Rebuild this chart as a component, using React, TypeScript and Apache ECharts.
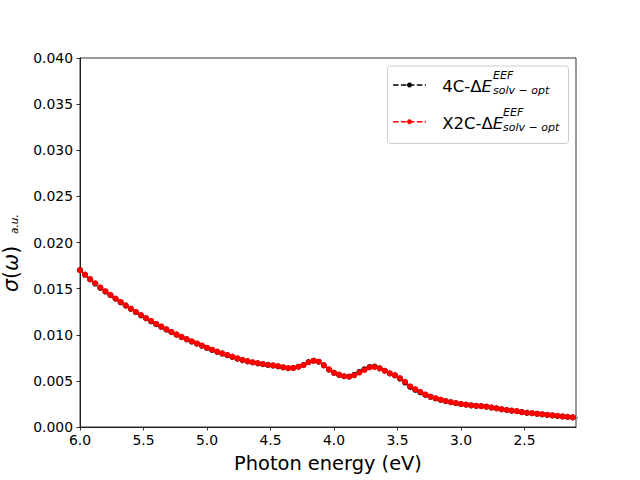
import React, { useEffect, useRef } from "react";
import * as echarts from "echarts";

const photonEnergy = [
  6.0, 5.96, 5.92, 5.88, 5.84, 5.8, 5.76, 5.72, 5.68, 5.64,
  5.6, 5.56, 5.52, 5.48, 5.44, 5.4, 5.36, 5.32, 5.28, 5.24,
  5.2, 5.16, 5.12, 5.08, 5.04, 5.0, 4.96, 4.92, 4.88, 4.84,
  4.8, 4.76, 4.72, 4.68, 4.64, 4.6, 4.56, 4.52, 4.48, 4.44,
  4.4, 4.36, 4.32, 4.28, 4.24, 4.2, 4.16, 4.12, 4.08, 4.04,
  4.0, 3.96, 3.92, 3.88, 3.84, 3.8, 3.76, 3.72, 3.68, 3.64,
  3.6, 3.56, 3.52, 3.48, 3.44, 3.4, 3.36, 3.32, 3.28, 3.24,
  3.2, 3.16, 3.12, 3.08, 3.04, 3.0, 2.96, 2.92, 2.88, 2.84,
  2.8, 2.76, 2.72, 2.68, 2.64, 2.6, 2.56, 2.52, 2.48, 2.44,
  2.4, 2.36, 2.32, 2.28, 2.24, 2.2, 2.16, 2.12, 2.08,
];

const sigma4C = [
  0.017, 0.0165, 0.016, 0.01555, 0.01508, 0.01468, 0.01428, 0.0139, 0.01352, 0.01316,
  0.0128, 0.01244, 0.0121, 0.01178, 0.01146, 0.01115, 0.01086, 0.01056, 0.01028, 0.01,
  0.00975, 0.0095, 0.00926, 0.00903, 0.0088, 0.00857, 0.00835, 0.00815, 0.00796, 0.00778,
  0.0076, 0.00741, 0.00725, 0.00711, 0.007, 0.0069, 0.00681, 0.00673, 0.00666, 0.00658,
  0.00646, 0.00637, 0.0064, 0.00653, 0.00672, 0.00704, 0.00719, 0.00708, 0.00668, 0.00622,
  0.00587, 0.00566, 0.0055, 0.00547, 0.00565, 0.00597, 0.00625, 0.0065, 0.00655, 0.00636,
  0.0061, 0.0058, 0.00558, 0.00524, 0.00482, 0.00434, 0.00403, 0.00376, 0.00348, 0.00327,
  0.00309, 0.00294, 0.0028, 0.00268, 0.00258, 0.00249, 0.00242, 0.00234, 0.00229, 0.00225,
  0.0022, 0.00211, 0.00202, 0.00192, 0.00184, 0.00177, 0.00171, 0.00161, 0.00154, 0.00149,
  0.00143, 0.00137, 0.00131, 0.00126, 0.0012, 0.00114, 0.00109, 0.00104, 0.00099,
];

const sigmaX2C = [
  0.017, 0.01652, 0.01604, 0.01558, 0.01513, 0.01472, 0.01432, 0.01393, 0.01356, 0.0132,
  0.01283, 0.01248, 0.01214, 0.01181, 0.0115, 0.01119, 0.0109, 0.0106, 0.01031, 0.01004,
  0.00978, 0.00953, 0.00929, 0.00906, 0.00884, 0.0086, 0.00838, 0.00818, 0.00799, 0.00781,
  0.00763, 0.00744, 0.00728, 0.00714, 0.00702, 0.00692, 0.00683, 0.00675, 0.00668, 0.0066,
  0.00648, 0.00638, 0.0064, 0.00652, 0.0067, 0.00702, 0.00718, 0.00708, 0.0067, 0.00625,
  0.0059, 0.00568, 0.0055, 0.00545, 0.0056, 0.0059, 0.00618, 0.00645, 0.00652, 0.00635,
  0.0061, 0.00582, 0.00562, 0.0053, 0.0049, 0.00442, 0.0041, 0.00382, 0.00353, 0.0033,
  0.00312, 0.00296, 0.00282, 0.0027, 0.0026, 0.0025, 0.00243, 0.00235, 0.0023, 0.00226,
  0.00221, 0.00212, 0.00203, 0.00193, 0.00185, 0.00178, 0.00172, 0.00162, 0.00155, 0.0015,
  0.00144, 0.00138, 0.00132, 0.00127, 0.00121, 0.00115, 0.0011, 0.00105, 0.001,
];

const xTickValues = [6.0, 5.5, 5.0, 4.5, 4.0, 3.5, 3.0, 2.5];

const FONT = "DejaVu Sans";

export default function App() {
  const ref = useRef<HTMLDivElement>(null);

  useEffect(() => {
    const chart = echarts.init(ref.current!, null, { renderer: "svg" });
    const axisLineStyle = { color: "#000", width: 0.8 };
    const labelStyle = { color: "#000", fontSize: 13.9, fontFamily: FONT };
    const dash = [5.55, 2.4];

    const mkSeries = (name: string, vals: number[], color: string, z: number) => ({
      type: "line",
      name,
      data: photonEnergy.map((x, i) => [x, vals[i]]),
      symbol: "circle",
      symbolSize: 6,
      showSymbol: true,
      z,
      itemStyle: { color },
      lineStyle: { color, width: 1.5, type: dash },
      emphasis: { disabled: true },
    });

    const legendRow = (y: number, color: string, label: string, xs: number) => [
      {
        type: "line",
        z: 20,
        shape: { x1: 393, y1: y, x2: 426, y2: y },
        style: { stroke: color, lineWidth: 1.5, lineDash: dash },
      },
      {
        type: "circle",
        z: 21,
        shape: { cx: 409.5, cy: y, r: 2.5 },
        style: { fill: color },
      },
      {
        type: "text",
        z: 20,
        x: 442.3,
        y: y + 6.7 - 5.3,
        style: {
          text: label + "{i|E}",
          fill: "#000",
          fontSize: 16.5,
          fontFamily: FONT,
          textAlign: "left",
          textVerticalAlign: "middle",
          verticalAlign: "middle",
          rich: {
            i: { fontStyle: "italic", fontSize: 16.5, fontFamily: FONT, fill: "#000" },
          },
        },
      },
      {
        type: "text",
        z: 20,
        x: xs,
        y: y + 6.7 - 13.4 - 3,
        style: {
          text: "EEF",
          fill: "#000",
          fontSize: 11,
          fontStyle: "italic",
          fontFamily: FONT,
          textAlign: "left",
          textVerticalAlign: "middle",
          verticalAlign: "middle",
        },
      },
      {
        type: "text",
        z: 20,
        x: xs,
        y: y + 6.7 + 1.6 - 3,
        style: {
          text: "solv \u2212 opt",
          fill: "#000",
          fontSize: 11,
          fontStyle: "italic",
          fontFamily: FONT,
          textAlign: "left",
          textVerticalAlign: "middle",
          verticalAlign: "middle",
        },
      },
    ];

    const option = {
      animation: false,
      backgroundColor: "#fff",
      grid: {
        left: 80,
        right: 64,
        top: 58,
        bottom: 53,
        show: true,
        borderColor: "#000",
        borderWidth: 0.8,
        backgroundColor: "#fff",
        containLabel: false,
        outerBoundsMode: "none",
      },
      xAxis: {
        type: "value",
        inverse: true,
        min: 2.094,
        max: 6.0,
        axisLine: { show: true, onZero: false, lineStyle: axisLineStyle },
        axisTick: {
          show: true,
          inside: false,
          length: 3.5,
          customValues: xTickValues,
          lineStyle: axisLineStyle,
        },
        axisLabel: {
          ...labelStyle,
          margin: 6,
          customValues: xTickValues,
          formatter: (v: number) => v.toFixed(1),
        },
        splitLine: { show: false },
      },
      yAxis: {
        type: "value",
        min: 0,
        max: 0.04,
        interval: 0.005,
        axisLine: { show: true, onZero: false, lineStyle: axisLineStyle },
        axisTick: { show: true, inside: false, length: 3.5, lineStyle: axisLineStyle },
        axisLabel: {
          ...labelStyle,
          margin: 7,
          formatter: (v: number) => v.toFixed(3),
        },
        splitLine: { show: false },
      },
      series: [
        mkSeries("4C", sigma4C, "#000000", 2),
        mkSeries("X2C", sigmaX2C, "#ff0000", 3),
      ],
      graphic: {
        elements: [
          {
            type: "rect",
            shape: { x: 387.5, y: 66, width: 181, height: 77.5, r: 3 },
            style: { fill: "rgba(255,255,255,0.8)", stroke: "#cccccc", lineWidth: 1 },
            z: 10,
          },
          ...legendRow(85, "#000000", "4C-\u0394", 493),
          ...legendRow(121.7, "#ff0000", "X2C-\u0394", 503),
          {
            type: "text",
            x: 328,
            y: 463.1,
            style: {
              text: "Photon energy (eV)",
              fill: "#000",
              fontSize: 19.4,
              fontFamily: FONT,
              textAlign: "center",
              textVerticalAlign: "middle",
              verticalAlign: "middle",
            },
          },
          {
            type: "text",
            x: 10.5,
            y: 292,
            rotation: Math.PI / 2,
            style: {
              text: "{g|\u03c3}({g|\u03c9})",
              fill: "#000",
              fontSize: 20.5,
              fontFamily: FONT,
              textAlign: "left",
              textVerticalAlign: "middle",
              verticalAlign: "middle",
              rich: {
                g: { fontStyle: "italic", fontSize: 20.5, fontFamily: FONT, fill: "#000" },
              },
            },
          },
          {
            type: "text",
            x: 13.5,
            y: 234,
            rotation: Math.PI / 2,
            style: {
              text: "a.u.",
              fill: "#000",
              fontSize: 10.5,
              fontStyle: "italic",
              fontFamily: FONT,
              textAlign: "left",
              textVerticalAlign: "middle",
              verticalAlign: "middle",
            },
          },
        ],
      },
    };

    chart.setOption(option as any);
    return () => chart.dispose();
  }, []);

  return (
    <div
      ref={ref}
      style={{ position: "absolute", left: 0, top: 0, width: 640, height: 480, background: "#fff" }}
    />
  );
}
